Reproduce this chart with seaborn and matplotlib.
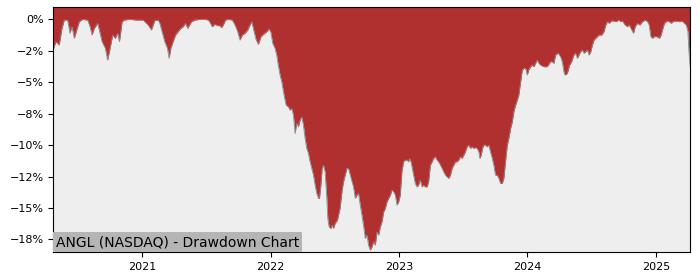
import numpy as np
import pandas as pd
import matplotlib
matplotlib.use("Agg")
import matplotlib.pyplot as plt
import matplotlib.dates as mdates
from matplotlib.ticker import MultipleLocator, PercentFormatter
import seaborn as sns

chart_label = "ANGL (NASDAQ) - Drawdown Chart"

date_years = [
    2020.307, 2020.328, 2020.354, 2020.375, 2020.393, 2020.419, 2020.4375, 2020.453, 2020.471, 2020.489,
    2020.510, 2020.536, 2020.575, 2020.594, 2020.609, 2020.627, 2020.653, 2020.666, 2020.6875, 2020.713,
    2020.731, 2020.750, 2020.770, 2020.791, 2020.809, 2020.823, 2020.844, 2020.862, 2020.901, 2020.953,
    2021.005, 2021.044, 2021.070, 2021.096, 2021.122, 2021.135, 2021.153, 2021.174, 2021.195, 2021.208,
    2021.221, 2021.239, 2021.258, 2021.278, 2021.299, 2021.317, 2021.336, 2021.352, 2021.367, 2021.383,
    2021.409, 2021.448, 2021.487, 2021.5125, 2021.526, 2021.544, 2021.565, 2021.586, 2021.604, 2021.617,
    2021.630, 2021.648, 2021.669, 2021.700, 2021.721, 2021.742, 2021.760, 2021.778, 2021.799, 2021.820,
    2021.838, 2021.852, 2021.867, 2021.885, 2021.903, 2021.924, 2021.942, 2021.969, 2021.987, 2022.000,
    2022.016, 2022.034, 2022.047, 2022.059, 2022.073, 2022.086, 2022.104, 2022.120, 2022.1375, 2022.151,
    2022.164, 2022.177, 2022.190, 2022.203, 2022.216, 2022.229, 2022.242, 2022.255, 2022.268, 2022.281,
    2022.294, 2022.307, 2022.320, 2022.333, 2022.346, 2022.359, 2022.372, 2022.380, 2022.391, 2022.401,
    2022.411, 2022.424, 2022.4375, 2022.445, 2022.455, 2022.469, 2022.479, 2022.489, 2022.502, 2022.520,
    2022.541, 2022.555, 2022.567, 2022.580, 2022.594, 2022.606, 2022.620, 2022.633, 2022.645, 2022.659,
    2022.672, 2022.684, 2022.698, 2022.711, 2022.723, 2022.737, 2022.750, 2022.7625, 2022.776, 2022.789,
    2022.802, 2022.815, 2022.828, 2022.841, 2022.854, 2022.867, 2022.880, 2022.893, 2022.906, 2022.919,
    2022.932, 2022.945, 2022.958, 2022.971, 2022.984, 2022.997, 2023.010, 2023.023, 2023.036, 2023.049,
    2023.0625, 2023.075, 2023.083, 2023.094, 2023.104, 2023.114, 2023.127, 2023.141, 2023.153, 2023.166,
    2023.180, 2023.192, 2023.205, 2023.219, 2023.231, 2023.245, 2023.258, 2023.270, 2023.284, 2023.297,
    2023.309, 2023.323, 2023.336, 2023.348, 2023.362, 2023.375, 2023.3875, 2023.401, 2023.414, 2023.427,
    2023.440, 2023.453, 2023.466, 2023.479, 2023.492, 2023.505, 2023.518, 2023.531, 2023.544, 2023.557,
    2023.570, 2023.583, 2023.596, 2023.609, 2023.622, 2023.630, 2023.641, 2023.651, 2023.661, 2023.674,
    2023.6875, 2023.700, 2023.713, 2023.727, 2023.739, 2023.752, 2023.766, 2023.778, 2023.791, 2023.805,
    2023.817, 2023.830, 2023.844, 2023.856, 2023.870, 2023.883, 2023.895, 2023.909, 2023.922, 2023.934,
    2023.948, 2023.961, 2023.973, 2023.987, 2024.000, 2024.012, 2024.026, 2024.039, 2024.052, 2024.065,
    2024.078, 2024.091, 2024.104, 2024.130, 2024.156, 2024.182, 2024.195, 2024.208, 2024.221, 2024.242,
    2024.260, 2024.273, 2024.286, 2024.294, 2024.3125, 2024.330, 2024.346, 2024.364, 2024.377, 2024.391,
    2024.403, 2024.416, 2024.430, 2024.442, 2024.455, 2024.469, 2024.481, 2024.495, 2024.508, 2024.520,
    2024.534, 2024.547, 2024.559, 2024.580, 2024.598, 2024.612, 2024.625, 2024.6375, 2024.651, 2024.664,
    2024.690, 2024.716, 2024.729, 2024.742, 2024.7625, 2024.781, 2024.794, 2024.815, 2024.828, 2024.841,
    2024.859, 2024.877, 2024.898, 2024.919, 2024.9375, 2024.950, 2024.963, 2024.977, 2024.989, 2025.008,
    2025.028, 2025.041, 2025.055, 2025.067, 2025.086, 2025.106, 2025.120, 2025.133, 2025.159, 2025.184,
    2025.205, 2025.223, 2025.237, 2025.250, 2025.258, 2025.268,
]

# drawdown in percent
drawdown_pct = [
    -2.40, -1.78, -2.04, -0.72, -0.06, -0.06, -1.10, -0.59, -1.51, -0.90,
    -0.19, 0.00, -0.06, -0.59, -1.25, -0.72, -0.32, -0.85, -1.78, -2.31,
    -3.24, -2.31, -1.25, -1.51, -1.11, -1.78, -0.19, -0.06, 0.00, -0.06,
    -0.06, -0.45, -0.85, -0.10, -0.06, -0.30, -0.98, -1.78, -2.31, -3.10,
    -2.31, -1.78, -1.25, -0.98, -0.72, -0.59, -0.32, -0.72, -0.45, -0.19,
    -0.06, 0.00, 0.00, -0.06, -0.24, -0.59, -0.40, -0.51, -0.51, -0.67,
    -0.45, -0.06, 0.00, -0.06, -0.45, -0.98, -1.65, -1.25, -1.11, -0.85,
    -0.45, -0.19, -0.85, -1.60, -2.00, -1.38, -1.20, -0.98, -0.77, -0.98,
    -1.91, -2.31, -2.84, -3.64, -4.43, -4.96, -6.02, -6.82, -6.95, -7.22,
    -7.08, -7.61, -9.07, -8.27, -8.54, -8.01, -7.75, -8.41, -9.47, -10.26,
    -10.66, -11.33, -11.85, -12.39, -13.18, -13.84, -14.24, -14.24, -13.18, -11.85,
    -11.59, -12.12, -14.24, -15.83, -16.50, -16.63, -16.36, -16.63, -16.23, -15.97,
    -15.00, -13.71, -12.92, -12.39, -11.85, -11.85, -12.39, -12.92, -13.32, -14.24,
    -13.98, -13.84, -14.77, -15.57, -16.36, -17.42, -17.16, -17.96, -18.35, -18.09,
    -17.69, -17.96, -16.90, -17.16, -16.50, -16.10, -15.31, -15.04, -14.51, -14.24,
    -13.98, -13.58, -13.71, -13.98, -14.77, -14.51, -13.98, -12.12, -11.33, -11.19,
    -11.19, -11.33, -11.06, -11.33, -11.85, -12.39, -13.05, -13.32, -13.18, -12.78,
    -13.32, -13.18, -13.32, -13.32, -12.92, -11.59, -11.33, -11.06, -10.93, -11.19,
    -11.33, -11.59, -11.85, -12.12, -12.39, -12.52, -12.65, -12.39, -11.85, -11.59,
    -11.33, -11.33, -11.19, -10.93, -11.06, -10.80, -10.53, -10.14, -10.00, -10.26,
    -10.14, -10.26, -10.20, -10.26, -10.53, -11.06, -10.80, -10.26, -10.00, -10.00,
    -10.14, -10.00, -10.53, -11.06, -11.59, -12.39, -12.39, -12.65, -13.05, -13.05,
    -12.65, -11.33, -10.00, -9.47, -8.67, -8.15, -7.35, -6.82, -6.42, -6.02,
    -4.96, -4.03, -3.90, -3.90, -4.43, -4.03, -3.77, -3.64, -3.77, -3.50,
    -3.24, -3.50, -3.64, -3.77, -3.77, -3.37, -3.37, -3.50, -2.84, -2.70,
    -2.98, -3.37, -4.17, -4.43, -4.30, -3.64, -3.37, -2.84, -2.70, -3.10,
    -2.84, -2.58, -2.44, -2.70, -2.58, -2.44, -2.84, -2.58, -2.04, -1.65,
    -1.51, -1.38, -1.25, -1.25, -0.98, -0.45, -0.19, -0.32, -0.19, -0.11,
    -0.19, -0.06, -0.19, -0.14, -0.45, -0.59, -0.45, -0.85, -1.11, -0.59,
    -0.32, -0.45, -0.19, -0.06, -0.19, -0.45, -1.38, -1.51, -1.38, -1.38,
    -1.51, -1.25, -0.72, -0.32, -0.14, -0.19, -0.32, -0.19, -0.14, -0.19,
    -0.14, -0.32, -0.45, -0.98, -2.58, -3.77,
]


def dec_to_ts(v):
    y = int(v)
    return pd.Timestamp(year=y, month=1, day=1) + pd.Timedelta(days=(v - y) * 365.25)


df = pd.DataFrame({"date": [dec_to_ts(v) for v in date_years], "drawdown": drawdown_pct})

fig, ax = plt.subplots(figsize=(7, 2.8), dpi=100)
fig.subplots_adjust(left=0.076, right=0.986, top=0.975, bottom=0.1)

y_top, y_bot = 0.98, -18.5
ax.set_facecolor("#eeeeee")
ax.fill_between(df["date"], df["drawdown"], y_top, color="#b03030", linewidth=0)
sns.lineplot(data=df, x="date", y="drawdown", ax=ax, color="#888888", linewidth=0.6)

ax.set_xlim(df["date"].iloc[0], df["date"].iloc[-1])
ax.set_ylim(y_bot, y_top)
ax.yaxis.set_major_locator(MultipleLocator(2.5))
ax.yaxis.set_major_formatter(PercentFormatter(xmax=100, decimals=0))
ax.xaxis.set_major_locator(mdates.YearLocator())
ax.xaxis.set_major_formatter(mdates.DateFormatter("%Y"))
ax.set_xlabel("")
ax.set_ylabel("")
ax.tick_params(labelsize=8)

ax.text(0.0047, 0.0114, chart_label, transform=ax.transAxes, fontsize=10,
        ha="left", va="bottom",
        bbox=dict(facecolor="#b5b5b5", edgecolor="none", pad=2))

fig.savefig("out.png", dpi=100)
